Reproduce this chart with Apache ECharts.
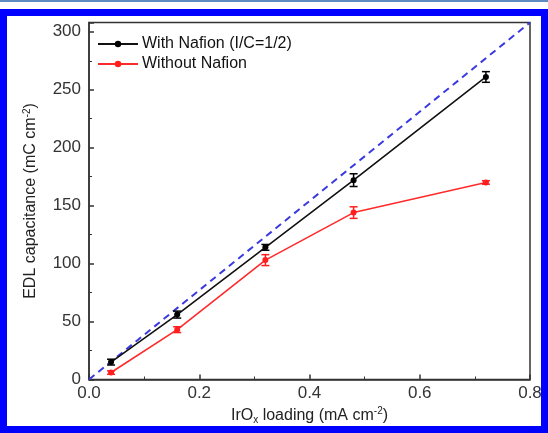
<!DOCTYPE html>
<html><head><meta charset="utf-8">
<script src="https://cdn.jsdelivr.net/npm/echarts@6/dist/echarts.min.js"></script>
<style>
html,body{margin:0;padding:0;background:#fff;}
#wrap{position:relative;width:548px;height:433px;overflow:hidden;background:#fff;}
#topline{position:absolute;left:0;top:0;width:548px;height:2px;background:#5d8cc4;}
#frame{position:absolute;left:0;top:9px;width:534px;height:410px;border:7px solid #0000ff;}
#chart{position:absolute;left:0;top:0;width:548px;height:433px;}
</style></head>
<body><div id="wrap"><div id="topline"></div><div id="frame"></div><div id="chart"></div></div>
<script>
var loading = [0.04, 0.16, 0.32, 0.48, 0.72];
var withNafion = [15, 56, 114, 172, 261];
var withNafionErr = [2.5, 3, 2.5, 5.5, 4.6];
var withoutNafion = [6, 43, 103, 144, 170];
var withoutNafionErr = [1.5, 2.5, 4.7, 5, 1.5];
var refLineX = [0, 0.8];
var refLineY = [0, 308];
var seriesNames = ['With Nafion (I/C=1/2)', 'Without Nafion'];

function pairs(xs, ys){ return xs.map(function(x,i){ return [x, ys[i]]; }); }
function errData(xs, ys, es){ return xs.map(function(x,i){ return [x, ys[i]-es[i], ys[i]+es[i]]; }); }
function errRender(color){
  return function(params, api){
    var lo = api.coord([api.value(0), api.value(1)]);
    var hi = api.coord([api.value(0), api.value(2)]);
    var w = 4;
    var st = {stroke: color, lineWidth: 1.5};
    return {type:'group', children:[
      {type:'line', shape:{x1:lo[0],y1:lo[1],x2:hi[0],y2:hi[1]}, style:st},
      {type:'line', shape:{x1:lo[0]-w,y1:lo[1],x2:lo[0]+w,y2:lo[1]}, style:st},
      {type:'line', shape:{x1:hi[0]-w,y1:hi[1],x2:hi[0]+w,y2:hi[1]}, style:st}
    ]};
  };
}
var chart = echarts.init(document.getElementById('chart'), null, {renderer:'canvas'});
var font = 'Liberation Sans, Arial, sans-serif';
chart.setOption({
  animation:false,
  textStyle:{fontFamily:font},
  grid:{left:89, right:18, top:22.5, bottom:53.5, show:true, borderColor:'#333', borderWidth:1.5, backgroundColor:'transparent'},
  legend:{
    left:92, top:31, orient:'vertical', itemWidth:40, itemHeight:8, itemGap:4,
    data: seriesNames,
    textStyle:{fontFamily:font, fontSize:16, color:'#111', padding:[0,0,0,-1]}
  },
  xAxis:{
    type:'value', min:0, max:0.8, interval:0.2,
    name:'{t|IrO}{s|x}{t| loading (mA cm}{p|-2}{t|)}', nameLocation:'middle', nameGap:24,
    nameTextStyle:{rich:{t:{fontSize:16,color:'#222',fontFamily:font}, s:{fontSize:10,color:'#222',fontFamily:font,verticalAlign:'bottom',padding:[9,0,0,0]}, p:{fontSize:10,color:'#222',fontFamily:font,verticalAlign:'top',padding:[0,0,7,0]}}},
    axisLine:{lineStyle:{color:'#333', width:1.5}},
    axisTick:{inside:true, length:5, lineStyle:{color:'#333', width:1.5}},
    minorTick:{show:true, splitNumber:2, length:3, lineStyle:{color:'#333', width:1}},
    splitLine:{show:false},
    axisLabel:{fontSize:17, color:'#333', margin:5, formatter:function(v){return v.toFixed(1);}}
  },
  yAxis:{
    type:'value', min:0, max:308, interval:50,
    name:'EDL capacitance (mC cm{p|-2}{t|)}', nameLocation:'middle', nameGap:50, nameRotate:90,
    nameTextStyle:{fontSize:16, color:'#222', fontFamily:font, rich:{t:{fontSize:16,color:'#222',fontFamily:font}, p:{fontSize:10,color:'#222',fontFamily:font,verticalAlign:'top',padding:[0,0,7,0]}}},
    axisLine:{lineStyle:{color:'#333', width:1.5}},
    axisTick:{inside:true, length:5, lineStyle:{color:'#333', width:1.5}},
    minorTick:{show:true, splitNumber:2, length:3, lineStyle:{color:'#333', width:1}},
    splitLine:{show:false},
    axisLabel:{fontSize:17, color:'#333', margin:8, formatter:function(v){return (v % 50 === 0) ? String(v) : '';}}
  },
  series:[
    {type:'line', name:'ref', data:pairs(refLineX, refLineY), showSymbol:false, symbol:'none', z:1,
     lineStyle:{color:'#3a3ae0', width:2, type:[7,5]}},
    {type:'line', name:seriesNames[0], data:pairs(loading, withNafion), symbol:'circle', symbolSize:6,
     itemStyle:{color:'#000'}, lineStyle:{color:'#111', width:1.6}, z:3},
    {type:'line', name:seriesNames[1], data:pairs(loading, withoutNafion), symbol:'circle', symbolSize:6,
     itemStyle:{color:'#ff1f1f'}, lineStyle:{color:'#ff2a2a', width:1.6}, z:3},
    {type:'custom', name:'errA', data:errData(loading, withNafion, withNafionErr), renderItem:errRender('#000'), z:4},
    {type:'custom', name:'errB', data:errData(loading, withoutNafion, withoutNafionErr), renderItem:errRender('#ff1f1f'), z:4}
  ]
});
</script></body></html>
